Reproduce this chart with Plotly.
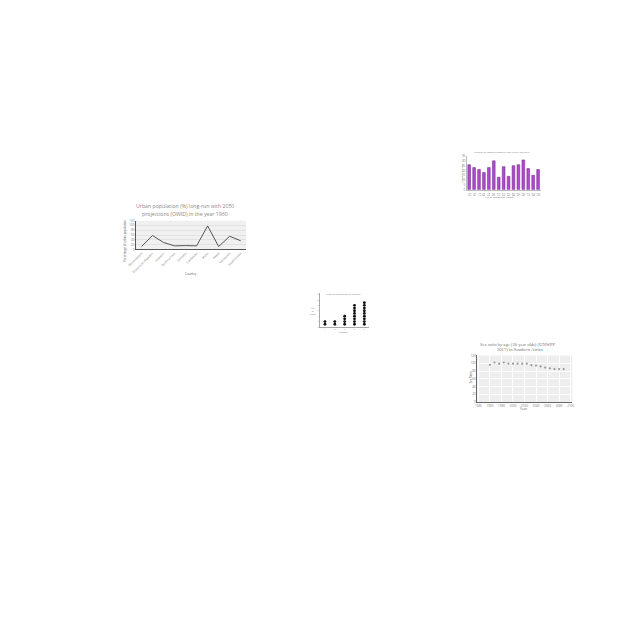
import plotly.graph_objects as go

# ---------------- data ----------------
# Chart 1: urban population (%) 1960 by country
countries = ["Mozambique", "Dominican Republic", "Eswatini", "Burkina Faso", "Ethiopia",
             "Cambodia", "Malta", "Nepal", "Venezuela", "Saudi Arabia"]
urban_pct = [12, 58, 29, 15, 16, 15, 98, 12, 55, 36]

# Chart 2: purple bars
bar_cats = ["15", "16", "17", "18", "19", "20", "21", "22", "23", "24", "25", "26", "27", "28", "29"]
bar_vals = [26, 23, 21, 18, 23, 30, 13, 24, 14, 25, 26, 31, 22, 15, 21]

# Chart 3: dot plot counts
dot_cats = ["A", "B", "C", "D", "E"]
dot_counts = [2, 2, 4, 8, 9]

# Chart 4: sex ratio by age (20 year olds), Southern Africa
sr_years = [1960, 1968, 1976, 1984, 1992, 2000, 2008, 2016, 2024, 2032, 2040, 2048, 2056, 2064, 2072, 2080, 2088]
sr_vals = [96, 102, 99, 102, 99, 99, 99, 99, 99, 95, 94, 92, 89, 87, 85, 85, 85]

W = 640.0
def px(x):
    return x / W
def py(y):
    return 1 - y / W

fig = go.Figure()

# ---- chart 1: line ----
fig.add_trace(go.Scatter(x=countries, y=urban_pct, mode="lines",
                         line=dict(color="#555555", width=1),
                         xaxis="x", yaxis="y", hoverinfo="skip"))

# ---- chart 2: bars ----
fig.add_trace(go.Bar(x=bar_cats, y=bar_vals,
                     marker=dict(color="#b04ad0", line=dict(color="#6a1f80", width=0.5)),
                     xaxis="x2", yaxis="y2", width=0.55))

# ---- chart 3: stacked dots ----
dx, dy = [], []
for c, n in zip(dot_cats, dot_counts):
    for k in range(n):
        dx.append(c)
        dy.append(k + 1)
fig.add_trace(go.Scatter(x=dx, y=dy, mode="markers",
                         marker=dict(color="#111111", size=2.8),
                         xaxis="x3", yaxis="y3"))

# ---- chart 4: scatter ----
fig.add_trace(go.Scatter(x=sr_years, y=sr_vals, mode="markers",
                         marker=dict(color="#9a9a9a", size=2.2),
                         xaxis="x4", yaxis="y4"))

tickf = dict(size=3, color="#777777", family="Open Sans")
common_axis = dict(tickfont=tickf, ticks="", zeroline=False)

layout = dict(
    width=640, height=640, margin=dict(l=0, r=0, t=0, b=0),
    paper_bgcolor="white", plot_bgcolor="rgba(0,0,0,0)", showlegend=False,
    bargap=0.45,
    xaxis=dict(domain=[px(130), px(242)], anchor="y", type="category",
               range=[-0.5, len(countries) - 0.5],
               tickangle=-45, showgrid=False, showline=True, linecolor="#555555", linewidth=1,
               **common_axis),
    yaxis=dict(domain=[py(249), py(220)], anchor="x", range=[0, 120], dtick=20,
               showgrid=True, gridcolor="#e2e2e2", gridwidth=0.5,
               showline=True, linecolor="#555555", linewidth=1, **common_axis),
    xaxis2=dict(domain=[px(466), px(541)], anchor="y2", type="category",
                range=[-0.5, len(bar_cats) - 0.5],
                showgrid=False, showline=True, linecolor="#bbbbbb", linewidth=0.6,
                **common_axis),
    yaxis2=dict(domain=[py(189), py(155)], anchor="x2", range=[0, 35], dtick=5,
                showgrid=False, showline=True, linecolor="#bbbbbb", linewidth=0.6,
                **common_axis),
    xaxis3=dict(domain=[px(317), px(367)], anchor="y3", type="category",
                range=[-0.5, len(dot_cats) - 0.5],
                showgrid=False, showline=True, linecolor="#aaaaaa", linewidth=0.6,
                ticks="", zeroline=False, tickfont=dict(size=2, color="#888888", family="Open Sans")),
    yaxis3=dict(domain=[py(327), py(293)], anchor="x3", range=[0, 12.5], dtick=2,
                showgrid=False, showline=True, linecolor="#aaaaaa", linewidth=0.6,
                ticks="", zeroline=False, tickfont=dict(size=2, color="#888888", family="Open Sans")),
    xaxis4=dict(domain=[px(476.7), px(573.3)], anchor="y4", range=[1938, 2103], dtick=20,
                showgrid=True, gridcolor="#ffffff", gridwidth=0.6,
                showline=True, linecolor="#666666", linewidth=0.8, **common_axis),
    yaxis4=dict(domain=[py(402.7), py(355.7)], anchor="x4", range=[0, 120], dtick=20,
                showgrid=True, gridcolor="#ffffff", gridwidth=0.6,
                showline=True, linecolor="#666666", linewidth=0.8, **common_axis),
)
fig.update_layout(**layout)

# plot backgrounds
fig.add_shape(type="rect", xref="x domain", yref="y domain", x0=0, x1=1, y0=0, y1=1,
              fillcolor="#f0f0f0", line=dict(width=0), layer="below")
fig.add_shape(type="rect", xref="x4 domain", yref="y4 domain", x0=0, x1=1, y0=0, y1=1,
              fillcolor="#eeeeee", line=dict(width=0), layer="below")

def ann(text, x, y, size, color="#888888", family="Open Sans", angle=0, xanchor="center"):
    fig.add_annotation(text=text, x=px(x), y=py(y), xref="paper", yref="paper",
                       showarrow=False, font=dict(size=size, color=color, family=family),
                       textangle=angle, xanchor=xanchor, yanchor="middle", align="center")

# chart 1 texts
ann("Urban population (%) long-run with 2050", 180, 205.5, 5.2)
ann("projections (OWID) in the year 1960", 180, 213.5, 5.2)
ann("Percentage of urban population", 118, 240, 2.8, color="#555555", angle=-90)
ann("Country", 186, 273.5, 3, color="#555555")

# chart 2 texts
ann("Number of reported cases by age in the year 2015", 502, 151, 2.4, color="#777777")
ann("Age of respondent (years)", 499, 196, 2.4, color="#777777")
ann("Number of cases", 461, 172, 2.4, color="#777777", angle=-90)

# chart 3 texts
ann("Count of observations by category", 341, 294, 2.2, color="#777777")
ann("No.<br>of<br>items", 309.5, 311, 2.2, color="#777777")
ann("Category", 341, 332.5, 2.2, color="#777777")

# chart 4 texts
serif = "Liberation Serif"
ann("Sex ratio by age (20 year olds) (UNWPP", 518, 345, 4.6, color="#777777", family=serif)
ann("2017) in Southern Africa", 520, 349.5, 4.6, color="#777777", family=serif)
ann("Sex Ratio", 470, 378, 2.8, color="#555555", angle=-90)
ann("Years", 524, 409.5, 2.8, color="#555555")

fig.write_html("out.html")
